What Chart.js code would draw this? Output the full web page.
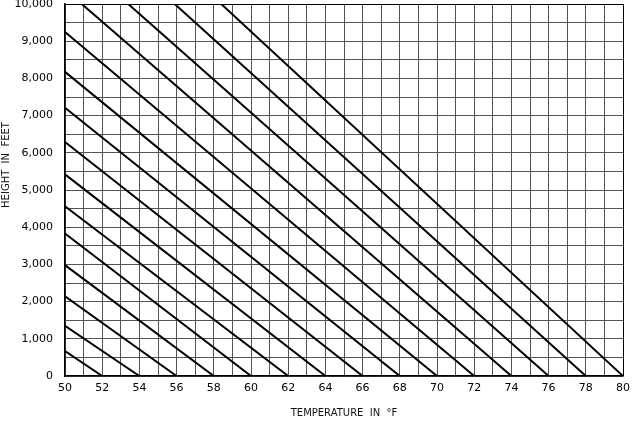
<!DOCTYPE html>
<html>
<head>
<meta charset="utf-8">
<script src="https://cdn.jsdelivr.net/npm/chart.js@4"></script>
<style>
html,body{margin:0;padding:0;background:#fff}
#wrap{width:632px;height:426px}
</style>
</head>
<body>
<div id="wrap"><canvas id="chart" width="632" height="426"></canvas></div>
<script>
// temperature where each line meets the ground (0 ft)
const groundTemps = [52,54,56,58,60,62,64,66,68,70,72,74,76,78,80]
// where each line leaves the chart: temperature and height at that edge
const edgeTemps = [50,50,50,50,50,50,50,50,50,50,50,50.9,53.4,55.9,58.4]
const edgeHeights = [670,1350,2140,2980,3830,4560,5420,6290,7210,8175,9250,10000,10000,10000,10000]

const xMin = 50, xMax = 80
const yMin = 0, yMax = 10000

const datasets = []
for(let i=0;i<groundTemps.length;i++){
datasets.push({
data:[{x:groundTemps[i],y:0},{x:edgeTemps[i],y:edgeHeights[i]}],
showLine:true,
borderColor:"#000",
borderWidth:2,
pointRadius:0,
fill:false
})
}

const font = "'DejaVu Sans', sans-serif"

const yTitle = {
id:"yTitle",
afterDraw(chart){
const c = chart.ctx
c.save()
c.translate(6,165)
c.rotate(-Math.PI/2)
c.font = "10px " + font
c.fillStyle = "#111"
c.textAlign = "center"
c.textBaseline = "middle"
c.fillText("HEIGHT  IN  FEET",0,0)
c.restore()
}
}

function gridColor(ctx){
if(ctx.tick && (ctx.tick.value === xMax || ctx.tick.value === yMax)) return "#000"
return "#555"
}

new Chart(document.getElementById("chart"),{
type:"scatter",
data:{datasets:datasets},
plugins:[yTitle],
options:{
responsive:false,
animation:false,
layout:{padding:{left:0,right:9,top:4,bottom:0}},
plugins:{legend:{display:false},tooltip:{enabled:false}},
scales:{
x:{
type:"linear",
min:xMin,max:xMax,
ticks:{
stepSize:1,
autoSkip:false,
maxRotation:0,
padding:6,
color:"#000",
font:{family:font,size:11},
callback:function(v){ return v % 2 === 0 ? String(v) : "" }
},
grid:{color:gridColor,lineWidth:1,drawTicks:false},
border:{color:"#000",width:1.5},
title:{
display:true,
text:"TEMPERATURE  IN  °F",
color:"#111",
font:{family:font,size:10},
padding:{top:0,bottom:7}
},
afterFit:function(s){ s.height = 50; s.paddingLeft = 0; s.paddingRight = 0 }
},
y:{
type:"linear",
min:yMin,max:yMax,
ticks:{
stepSize:500,
autoSkip:false,
padding:12,
color:"#000",
font:{family:font,size:11},
callback:function(v){ return v % 1000 === 0 ? v.toLocaleString("en-US") : "" }
},
grid:{color:gridColor,lineWidth:1,drawTicks:false},
border:{color:"#000",width:1.5},
afterFit:function(s){ s.width = 65; s.paddingTop = 0; s.paddingBottom = 0 }
}
}
}
})
</script>
</body>
</html>
